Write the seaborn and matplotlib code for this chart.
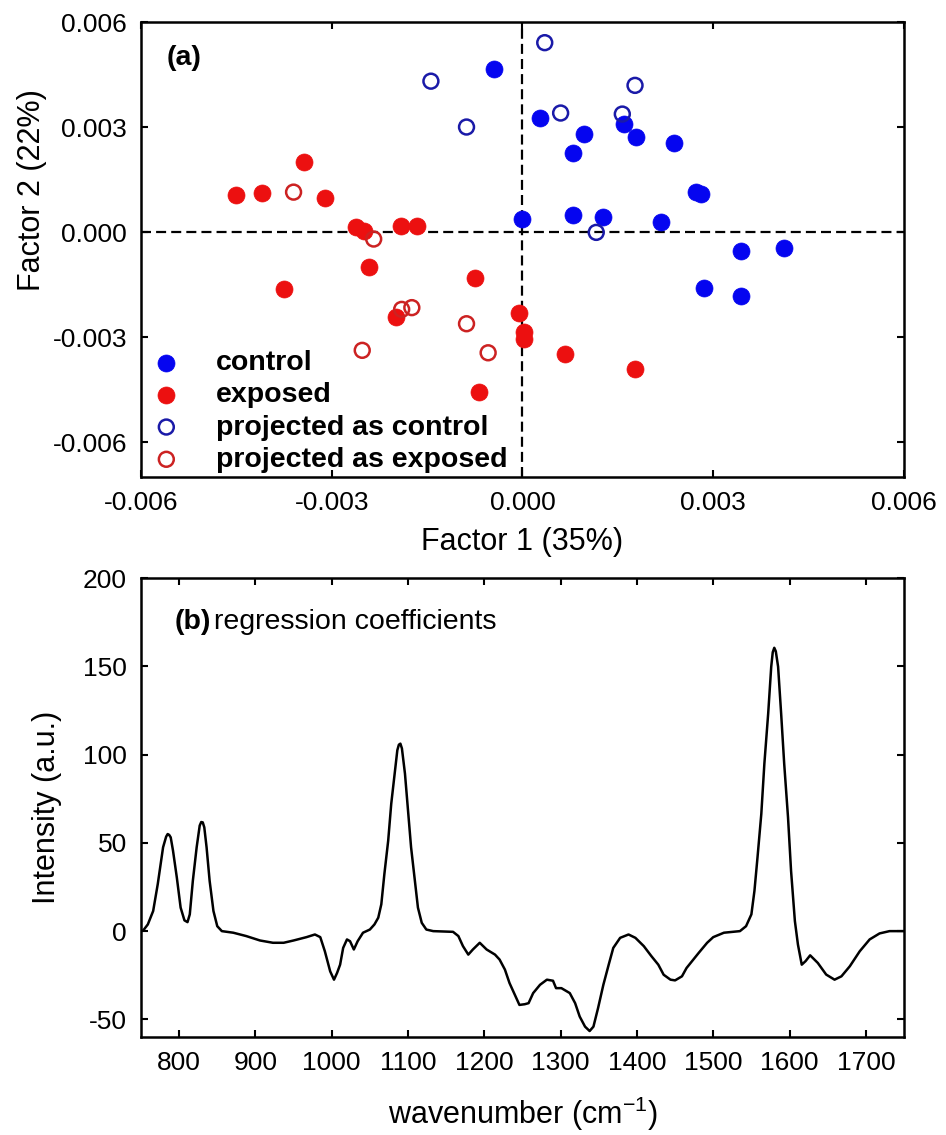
import numpy as np
import matplotlib
matplotlib.use("Agg")
import matplotlib.pyplot as plt
import pandas as pd
import seaborn as sns

# ---- panel (a): factor scores ----
control_x = [-0.00045, 0.00000, 0.00028, 0.00159, 0.00096, 0.00179, 0.00079, 0.00238,
             0.00273, 0.00280, 0.00080, 0.00126, 0.00218, 0.00344, 0.00412, 0.00286, 0.00344]
control_y = [0.00467, 0.00036, 0.00326, 0.00309, 0.00281, 0.00271, 0.00226, 0.00254,
             0.00115, 0.00109, 0.00049, 0.00044, 0.00028, -0.00054, -0.00047, -0.00161, -0.00184]

exposed_x = [-0.00343, -0.00451, -0.00409, -0.00310, -0.00262, -0.00249, -0.00191, -0.00166, -0.00242,
             -0.00375, -0.00075, -0.00199, -0.00069, -0.00005, 0.00002, 0.00002, 0.00067, 0.00177]
exposed_y = [0.00200, 0.00107, 0.00111, 0.00097, 0.00014, 0.00004, 0.00018, 0.00018, -0.00101,
             -0.00163, -0.00130, -0.00243, -0.00456, -0.00232, -0.00287, -0.00307, -0.00349, -0.00390]

proj_control_x = [-0.00144, -0.00088, 0.00035, 0.00177, 0.00060, 0.00157, 0.00116]
proj_control_y = [0.00431, 0.00300, 0.00541, 0.00419, 0.00340, 0.00337, -0.00001]

proj_exposed_x = [-0.00360, -0.00234, -0.00190, -0.00174, -0.00088, -0.00252, -0.00054]
proj_exposed_y = [0.00114, -0.00020, -0.00221, -0.00216, -0.00262, -0.00338, -0.00345]

# ---- panel (b): regression coefficients ----
wavenumber = [750, 753, 759, 766, 772, 779, 783, 785, 787, 789, 792, 797,
              802, 807, 811, 814, 818, 823, 827, 829, 831, 833, 836,
              840, 845, 850, 856, 871, 888, 906, 923, 937, 950,
              967, 978, 985, 991, 998, 1003, 1007, 1011, 1015, 1020,
              1024, 1029, 1034, 1041, 1050, 1056, 1061, 1065, 1069, 1074,
              1078, 1083, 1086, 1088, 1090, 1092, 1096, 1100, 1104, 1109, 1113,
              1118, 1124, 1133, 1159, 1166, 1172, 1179, 1185, 1194, 1203,
              1214, 1220, 1227, 1233, 1240, 1246, 1253, 1258, 1264, 1273,
              1282, 1290, 1294, 1301, 1312, 1319, 1325, 1332, 1338, 1343,
              1349, 1356, 1363, 1369, 1378, 1389, 1398, 1409, 1419, 1428,
              1435, 1444, 1450, 1459, 1465, 1472, 1481, 1492, 1500, 1514,
              1535, 1543, 1550, 1554, 1558, 1563, 1567, 1572, 1576, 1578, 1580,
              1582, 1585, 1589, 1593, 1598, 1602, 1607, 1611, 1616, 1621,
              1627, 1637, 1648, 1659, 1668, 1679, 1692, 1705, 1718, 1731,
              1750]
intensity = [0, 0.4, 3.8, 11.4, 26.6, 47.5, 53.5, 55.0, 54.5, 53.1, 45.6, 30.4,
             13.3, 6.1, 5.1, 9.5, 28.5, 47.5, 59.8, 61.8, 61.6, 58.8, 47.5,
             28.5, 11.4, 2.8, 0, -0.9, -2.8, -5.3, -6.6, -6.6, -5.3,
             -3.4, -1.9, -3.4, -11.4, -22.8, -27.5, -23.7, -19, -9.5, -4.7,
             -5.7, -10.4, -5.7, -0.9, 0.9, 3.8, 7.6, 15.2, 32.3, 51.2,
             72.1, 91.1, 102.5, 105.6, 106.2, 103.5, 89.2, 68.3, 47.5, 28.5, 13.3,
             4.7, 0.9, 0, -0.4, -2.8, -8.5, -13.3, -10.4, -6.6, -10.4,
             -13.3, -16.1, -21.8, -29.4, -36.1, -41.8, -41.4, -40.8, -35.1, -30.4,
             -27.5, -28.1, -32.3, -32.3, -35.1, -40.8, -48.4, -54.1, -56.6, -54.1,
             -43.7, -30.4, -19, -9.5, -3.8, -1.9, -3.8, -8.5, -14.2, -19,
             -24.7, -27.5, -27.9, -25.6, -20.9, -17.1, -12.3, -6.6, -3.4, -0.9,
             0, 2.8, 9.5, 22.8, 41.7, 66.4, 94.8, 123.2, 149.8, 158.0, 160.5,
             158.5, 149.8, 123.2, 94.8, 64.5, 34.1, 5.7, -7.6, -19, -17,
             -13.7, -18, -24.6, -27.5, -25.6, -19.9, -11.4, -4.7, -1.3, 0,
             0]

sns.set_style("ticks")
plt.rcParams['font.family'] = ['Liberation Sans', 'DejaVu Sans']
plt.rcParams['mathtext.fontset'] = 'custom'
plt.rcParams['mathtext.rm'] = 'Liberation Sans'
plt.rcParams['mathtext.it'] = 'Liberation Sans:italic'
plt.rcParams['axes.unicode_minus'] = False
plt.rcParams['text.color'] = 'black'
plt.rcParams['axes.labelcolor'] = 'black'
plt.rcParams['xtick.color'] = 'black'
plt.rcParams['ytick.color'] = 'black'

fig = plt.figure(figsize=(9.46, 11.35), dpi=100)
ax1 = fig.add_axes([0.149, 0.5797, 0.8066, 0.4009])
ax2 = fig.add_axes([0.149, 0.0863, 0.8066, 0.4044])

# scatter groups: (x, y, label, face, edge)
groups = [
    (control_x, control_y, 'control', '#0505f0', '#0505f0'),
    (exposed_x, exposed_y, 'exposed', '#ec1010', '#ec1010'),
    (proj_control_x, proj_control_y, 'projected as control', 'none', '#1a1aa8'),
    (proj_exposed_x, proj_exposed_y, 'projected as exposed', 'none', '#cc2222'),
]

dash = (0, (4.5, 2.3))
ax1.axhline(0, color='black', ls=dash, lw=1.6, zorder=1)
ax1.axvline(0, color='black', ls=dash, lw=1.6, zorder=1)

for xs, ys, lab, fc, ec in groups:
    df = pd.DataFrame({'f1': xs, 'f2': ys})
    if fc == 'none':
        sns.scatterplot(data=df, x='f1', y='f2', ax=ax1, s=115, marker='o',
                        facecolors='none', edgecolor=ec, linewidth=1.8,
                        label=lab, zorder=3)
    else:
        sns.scatterplot(data=df, x='f1', y='f2', ax=ax1, s=150, marker='o',
                        color=fc, edgecolor=ec, linewidth=0.5,
                        label=lab, zorder=3)

ax1.set_xlim(-0.006, 0.006)
ax1.set_ylim(-0.007, 0.006)
ax1.set_xticks([-0.006, -0.003, 0.0, 0.003, 0.006])
ax1.set_yticks([-0.006, -0.003, 0.0, 0.003, 0.006])
ax1.set_xticklabels(['%.3f' % v for v in ax1.get_xticks()])
ax1.set_yticklabels(['%.3f' % v for v in ax1.get_yticks()])
ax1.set_xlabel('Factor 1 (35%)', fontsize=22)
ax1.set_ylabel('Factor 2 (22%)', fontsize=22)
ax1.xaxis.set_label_coords(0.5, -0.11)
ax1.yaxis.set_label_coords(-0.123, 0.63)
ax1.text(0.034, 0.921, '(a)', transform=ax1.transAxes, fontsize=20.5,
         fontweight='bold', va='center', ha='left')

leg = ax1.legend(loc='lower left', bbox_to_anchor=(0.009, 0.0), frameon=False,
                 scatterpoints=1, prop={'weight': 'bold', 'size': 20.5},
                 handlelength=1.0, handletextpad=1.25, borderaxespad=0.1,
                 borderpad=0.05, labelspacing=0.22)

# spectrum
spec = pd.DataFrame({'wn': wavenumber, 'coef': intensity})
sns.lineplot(data=spec, x='wn', y='coef', ax=ax2, color='black', lw=1.8,
             estimator=None, sort=False)
ax2.set_xlim(750, 1750)
ax2.set_ylim(-60, 200)
ax2.set_xticks(range(800, 1701, 100))
ax2.set_yticks([-50, 0, 50, 100, 150, 200])
ax2.set_xlabel('wavenumber (cm$^{-1}$)', fontsize=22)
ax2.set_ylabel('Intensity (a.u.)', fontsize=22)
ax2.xaxis.set_label_coords(0.5, -0.125)
ax2.yaxis.set_label_coords(-0.104, 0.5)
ax2.text(0.0446, 0.904, '(b)', transform=ax2.transAxes, fontsize=20.5,
         fontweight='bold', va='center', ha='left')
ax2.text(0.096, 0.904, 'regression coefficients', transform=ax2.transAxes,
         fontsize=20.5, va='center', ha='left')

for ax in (ax1, ax2):
    for sp in ax.spines.values():
        sp.set_visible(True)
        sp.set_linewidth(1.8)
        sp.set_color('black')
    ax.tick_params(direction='in', length=5, width=1.5, labelsize=19,
                   top=True, right=True, pad=10, colors='black')

fig.savefig('out.png', dpi=100)
